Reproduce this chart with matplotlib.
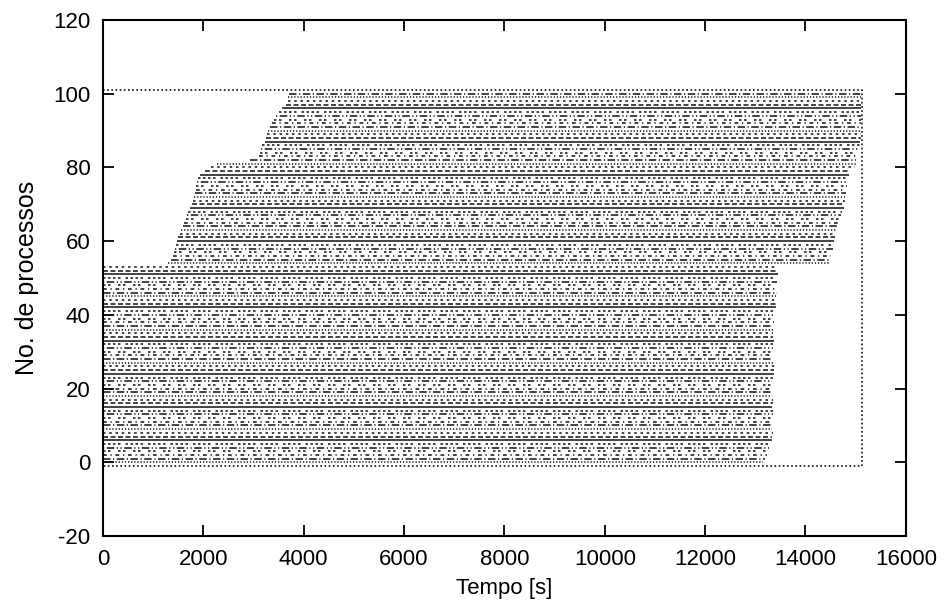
import numpy as np
import matplotlib
matplotlib.use("Agg")
import matplotlib.pyplot as plt

# one horizontal line per process: y = process number, from start to end time [s]
processes = list(range(101))

start = [0] * 54 + [
	1300, 1350, 1400, 1420, 1440, 1450, 1480, 1500, 1540, 1560,
	1590, 1620, 1650, 1670, 1690, 1740, 1780, 1800, 1820, 1840,
	1850, 1860, 1880, 1900, 1940, 2030, 2150, 2270, 2930, 3100,
	3130, 3150, 3170, 3220, 3240, 3260, 3290, 3320, 3370, 3400,
	3450, 3500, 3560, 3650, 3680, 3690, 3700,
]

end = [
	13150, 13200, 13230, 13250, 13280, 13300, 13340, 13330, 13350, 13340,
	13330, 13350, 13340, 13360, 13350, 13340, 13350, 13360, 13340, 13350,
	13360, 13350, 13340, 13360, 13380, 13370, 13390, 13380, 13360, 13350,
	13370, 13360, 13350, 13370, 13360, 13350, 13370, 13360, 13380, 13370,
	13360, 13420, 13410, 13430, 13420, 13410, 13430, 13420, 13440, 13430,
	13420, 13450, 13440, 13450,
	14480, 14500, 14510, 14520, 14540, 14550, 14570, 14590, 14610, 14630,
	14640, 14660, 14680, 14700, 14720, 14760, 14770, 14780, 14790, 14800,
	14810, 14830, 14840, 14850, 14870, 14880, 14990, 15000, 15010, 15030,
	15050, 15070, 15080, 15090, 15100, 15100, 15110, 15100, 15110, 15100,
	15110, 15100, 15110, 15100, 15110, 15100, 15110,
]

# dotted frame round the whole run
box_t = [0, 15120, 15120, 0]
box_y = [101, 101, -1, -1]

xticks = list(range(0, 16001, 2000))
yticks = list(range(-20, 121, 20))

# gnuplot postscript dash types, cycle of 9
u = 0.9
dash_types = [None, (4, 2), (2, 3), (1, 1.5), (6, 2, 1, 2), (3, 3, 1, 3),
	(2, 2, 2, 6), (1, 2, 6, 2, 1, 2), (2, 2, 2, 2, 2, 2, 2, 4)]

plt.rcParams['font.family'] = ['Liberation Sans', 'DejaVu Sans']
plt.rcParams['lines.scale_dashes'] = False
plt.rcParams['axes.unicode_minus'] = False

fig = plt.figure(figsize=(9.49, 6.11), dpi=100)
ax = fig.add_axes([0.1085, 0.1227, 0.846, 0.8446])

for p, s, e in zip(processes, start, end):
	d = dash_types[(p - 6) % 9]
	if d is None:
		ax.plot([s, e], [p, p], color='#111111', lw=1.1, solid_capstyle='butt')
	else:
		ax.plot([s, e], [p, p], color='#111111', lw=1.1,
			dashes=[v * u for v in d], dash_capstyle='butt')

ax.plot(box_t, box_y, color='#222222', lw=1.3, dashes=(1.2, 1.8), clip_on=False)

ax.set_xlim(0, 16000)
ax.set_ylim(-20, 120)
ax.set_xticks(xticks)
ax.set_yticks(yticks)
ax.tick_params(direction='in', length=8, width=1.3, top=True, right=True,
	labelsize=16, pad=9, colors='black')
for sp in ax.spines.values():
	sp.set_linewidth(1.5)

ax.set_xlabel('Tempo [s]', fontsize=16, labelpad=6)
ax.set_ylabel('No. de processos', fontsize=18, labelpad=10)

fig.savefig('out.png', dpi=100)
